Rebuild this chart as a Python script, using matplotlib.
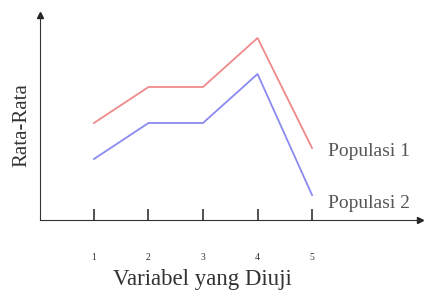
import numpy as np
from matplotlib import pyplot as plt

plt.rcParams['font.family'] = ['Liberation Serif', 'DejaVu Serif']

variabel = [1, 2, 3, 4, 5]
populasi_1 = [9.7, 13.3, 13.3, 18.2, 7.2]
populasi_2 = [6.1, 9.7, 9.7, 14.6, 2.5]
labels = ['Populasi 1', 'Populasi 2']

fig = plt.figure(figsize=(4.26, 2.91), dpi=100)
ax = fig.add_axes([40/426, 71/291, 380/426, 205/291])

ax.plot(variabel, populasi_1, color='#f08a8a', lw=1.3)
ax.plot(variabel, populasi_2, color='#8a8af0', lw=1.3)

ax.set_xlim(0.01, 6.98)
ax.set_ylim(0, 20.5)

# axes as arrows
ax.spines['top'].set_visible(False)
ax.spines['right'].set_visible(False)
ax.spines['left'].set_color('#333333')
ax.spines['bottom'].set_color('#333333')
ax.plot(1, 0, '>', color='#222222', ms=5, transform=ax.transAxes, clip_on=False)
ax.plot(0, 1, '^', color='#222222', ms=5, transform=ax.transAxes, clip_on=False)

ax.set_xticks(variabel)
ax.tick_params(axis='x', direction='in', length=8, width=1.2, pad=24,
               labelsize=7, colors='#333333')
ax.set_yticks([])

# end labels
ax.text(5.29, populasi_1[-1] - 0.4, labels[0], fontsize=14, color='#555555',
        va='center', ha='left')
ax.text(5.29, populasi_2[-1] - 0.9, labels[1], fontsize=14, color='#555555',
        va='center', ha='left')

ax.set_xlabel('Variabel yang Diuji', fontsize=16.5, color='#333333')
ax.xaxis.set_label_coords(0.426, -0.24)
ax.set_ylabel('Rata-Rata', fontsize=15, color='#333333')
ax.yaxis.set_label_coords(-0.024, 0.463)

plt.savefig('out.png', dpi=100)
